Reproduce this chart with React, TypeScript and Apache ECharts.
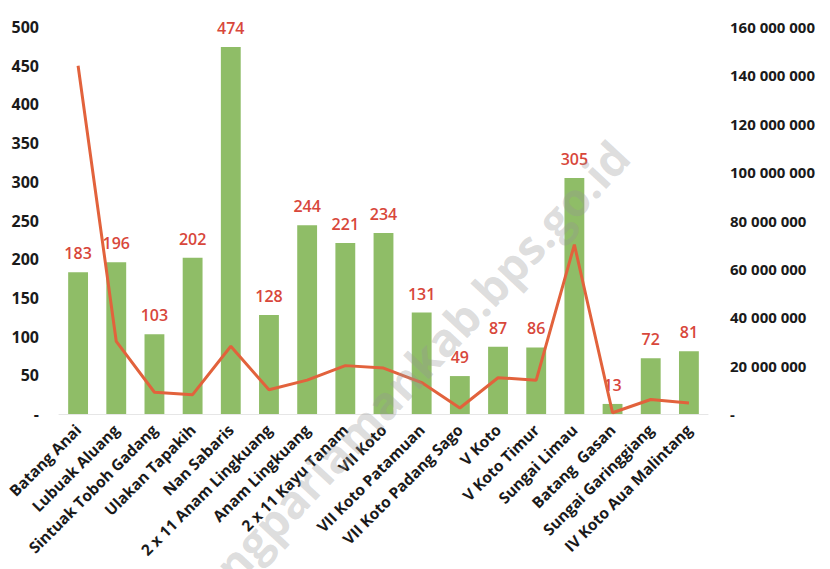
import React, { useEffect, useRef } from "react";
import * as echarts from "echarts";

const categories = [
  "Batang Anai",
  "Lubuak Aluang",
  "Sintuak Toboh Gadang",
  "Ulakan Tapakih",
  "Nan Sabaris",
  "2 x 11 Anam Lingkuang",
  "Anam Lingkuang",
  "2 x 11 Kayu Tanam",
  "VII Koto",
  "VII Koto Patamuan",
  "VII Koto Padang Sago",
  "V Koto",
  "V Koto Timur",
  "Sungai Limau",
  "Batang  Gasan",
  "Sungai Garinggiang",
  "IV Koto Aua Malintang",
];
const barValues = [183, 196, 103, 202, 474, 128, 244, 221, 234, 131, 49, 87, 86, 305, 13, 72, 81];
const lineValues = [
  144000000, 30000000, 9000000, 8000000, 28000000, 10000000, 14000000, 20000000, 19000000,
  13000000, 2500000, 15000000, 14000000, 70000000, 500000, 6000000, 4500000,
];
const leftTicks = { min: 0, max: 500, interval: 50 };
const rightTicks = { min: 0, max: 160000000, interval: 20000000 };
const watermark = "padangpariamankab.bps.go.id";

const fmtSpace = (v: number) =>
  v === 0 ? "-" : String(Math.round(v)).replace(/\B(?=(\d{3})+(?!\d))/g, " ");

export default function App() {
  const ref = useRef<HTMLDivElement>(null);
  useEffect(() => {
    if (!ref.current) return;
    const chart = echarts.init(ref.current, null, { renderer: "svg" });
    const font = "'Open Sans', 'Noto Sans', sans-serif";
    chart.setOption({
      animation: false,
      textStyle: { fontFamily: font },
      grid: { left: 59, right: 122, top: 27, bottom: 155, containLabel: false },
      graphic: [
        {
          type: "text",
          x: 620,
          y: 148,
          rotation: (47 * Math.PI) / 180,
          style: {
            text: watermark,
            fill: "rgba(150,150,150,0.32)",
            font: "bold 46px 'Open Sans', sans-serif",
            align: "right",
            verticalAlign: "middle",
          },
          z: 100,
        },
      ],
      xAxis: {
        type: "category",
        data: categories,
        axisLine: { lineStyle: { color: "#e6e6e6", width: 1 } },
        axisTick: { show: false },
        axisLabel: {
          interval: 0,
          rotate: 45,
          color: "#1a1a1a",
          fontWeight: "bold",
          fontSize: 15.5,
          margin: 13,
          fontFamily: font,
        },
      },
      yAxis: [
        {
          type: "value",
          ...leftTicks,
          splitLine: { show: false },
          axisLine: { show: false },
          axisTick: { show: false },
          axisLabel: {
            color: "#1a1a1a",
            fontWeight: "bold",
            fontSize: 16,
            margin: 20,
            formatter: (v: number) => (v === 0 ? "-" : String(v)),
            fontFamily: font,
          },
        },
        {
          type: "value",
          ...rightTicks,
          splitLine: { show: false },
          axisLine: { show: false },
          axisTick: { show: false },
          axisLabel: {
            color: "#1a1a1a",
            fontWeight: "bold",
            fontSize: 15,
            margin: 22,
            formatter: fmtSpace,
            fontFamily: font,
          },
        },
      ],
      series: [
        {
          type: "bar",
          data: barValues,
          barWidth: "52%",
          itemStyle: { color: "#8fbd67" },
          label: {
            show: true,
            position: "top",
            distance: 11,
            color: "#d8473b",
            fontSize: 16,
            fontWeight: 600,
            fontFamily: font,
          },
        },
        {
          type: "line",
          yAxisIndex: 1,
          data: lineValues,
          smooth: false,
          symbol: "none",
          lineStyle: { color: "#e2623c", width: 3 },
        },
      ],
    });
    return () => chart.dispose();
  }, []);
  return <div ref={ref} style={{ width: 830, height: 569, position: "absolute", left: 0, top: 0 }} />;
}
